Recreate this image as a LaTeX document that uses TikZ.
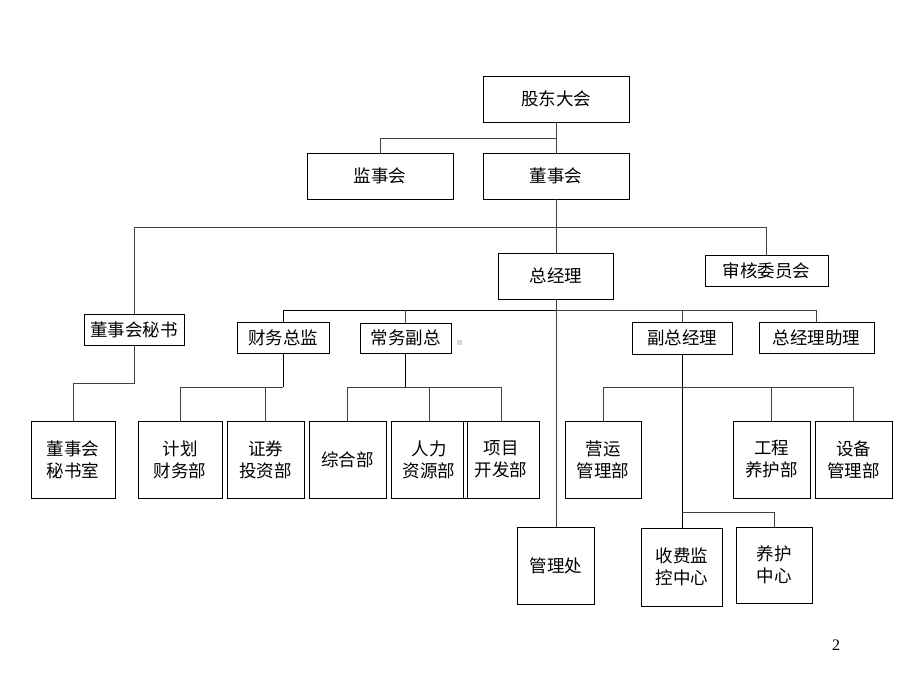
\documentclass[tikz,border=0pt]{standalone}
\usepackage{fontspec}
\newfontfamily\cjk{Noto Sans CJK SC}
\newfontfamily\pagefont{Liberation Serif}
\begin{document}
\begin{tikzpicture}[x=1pt,y=-1pt,
  box/.style={draw=black,line width=0.9pt,rectangle,inner sep=0pt,align=center,
    font=\cjk\fontsize{17.5}{22}\selectfont},
  conn/.style={draw=black!75,line width=0.7pt},
  connb/.style={draw=black,line width=1.0pt}]
\useasboundingbox (0,0) rectangle (920,690);
% top levels
\node[box,minimum width=146,minimum height=46] (gd) at (556,99) {股东大会};
\node[box,minimum width=146,minimum height=46] (jsh) at (380,176) {监事会};
\node[box,minimum width=146,minimum height=46] (dsh) at (556,176) {董事会};
\node[box,minimum width=115,minimum height=46] (zjl) at (556,276) {总经理};
\node[box,minimum width=123,minimum height=31] (shwy) at (766.5,270.5) {审核委员会};
\node[box,minimum width=100,minimum height=31] (dmsh) at (134,329.5) {董事会秘书};
\node[box,minimum width=92,minimum height=31] (cwzj) at (283,337.5) {财务总监};
\node[box,minimum width=91,minimum height=30] (cwfz) at (405.5,338) {常务副总};
\node[box,minimum width=100,minimum height=32] (fzjl) at (682,338) {副总经理};
\node[box,minimum width=115,minimum height=31] (zjlzl) at (816.5,337.5) {总经理助理};
% bottom row
\node[box,minimum width=84,minimum height=77] (dmss) at (73,459.5) {董事会\\秘书室};
\node[box,minimum width=84,minimum height=77] (jhcw) at (180,459.5) {计划\\财务部};
\node[box,minimum width=77,minimum height=77] (zqtz) at (265.5,459.5) {证券\\投资部};
\node[box,minimum width=77,minimum height=77] (zhb) at (347.5,459.5) {综合部};
\node[box,minimum width=76,minimum height=77] (rlzy) at (429,459.5) {人力\\资源部};
\node[box,minimum width=76,minimum height=77] (xmkf) at (501,459.5) {项目\\开发部};
\node[box,minimum width=76,minimum height=77] (yygl) at (603,459.5) {营运\\管理部};
\node[box,minimum width=77,minimum height=77] (gcyh) at (771.5,459.5) {工程\\养护部};
\node[box,minimum width=77,minimum height=77] (sbgl) at (853.5,459.5) {设备\\管理部};
\node[box,minimum width=77,minimum height=77] (glc) at (556,565.5) {管理处};
\node[box,minimum width=81,minimum height=78] (sfjk) at (682,567) {收费监\\控中心};
\node[box,minimum width=76,minimum height=76] (yhzx) at (774,565) {养护\\中心};
% bus levels
\coordinate (b1) at (0,138);
\coordinate (b2) at (0,227);
\coordinate (b3) at (0,310);
\coordinate (b4) at (0,383);
\coordinate (b5) at (0,387);
\coordinate (b6) at (0,512);
% connectors
\draw[conn] (gd.south) -- (dsh.north);
\draw[conn] (jsh.north) |- (gd.south |- b1);
\draw[conn] (dsh.south) -- (zjl.north);
\draw[conn] (dmsh.north) |- (shwy.north |- b2) -- (shwy.north);
\draw[conn] (zjl.south) -- (glc.north);
\draw[connb] (cwzj.north) |- (zjl.south |- b3);
\draw[conn] (zjl.south |- b3) -| (zjlzl.north);
\draw[conn] (cwfz.north) -- (cwfz.north |- b3);
\draw[conn] (fzjl.north) -- (fzjl.north |- b3);
\draw[conn] (dmsh.south) -- (dmsh.south |- b4) -| (dmss.north);
\draw[connb] (cwzj.south) -- (cwzj.south |- b5);
\draw[conn] (cwzj.south |- b5) -| (jhcw.north);
\draw[conn] (zqtz.north) -- (zqtz.north |- b5);
\draw[connb] (cwfz.south) -- (cwfz.south |- b5);
\draw[conn] (zhb.north) |- (xmkf.north |- b5) -- (xmkf.north);
\draw[conn] (rlzy.north) -- (rlzy.north |- b5);
\draw[connb] (fzjl.south) -- (sfjk.north);
\draw[conn] (yygl.north) |- (sbgl.north |- b5) -- (sbgl.north);
\draw[conn] (gcyh.north) -- (gcyh.north |- b5);
\draw[conn] (sfjk.north |- b6) -| (yhzx.north);
% small grey mark
\fill[black!15] (456.5,339.5) rectangle (461.5,344.5);
% page number
\node[font=\pagefont\fontsize{16}{18}\selectfont] (pg) at (836,645) {2};
\end{tikzpicture}
\end{document}
